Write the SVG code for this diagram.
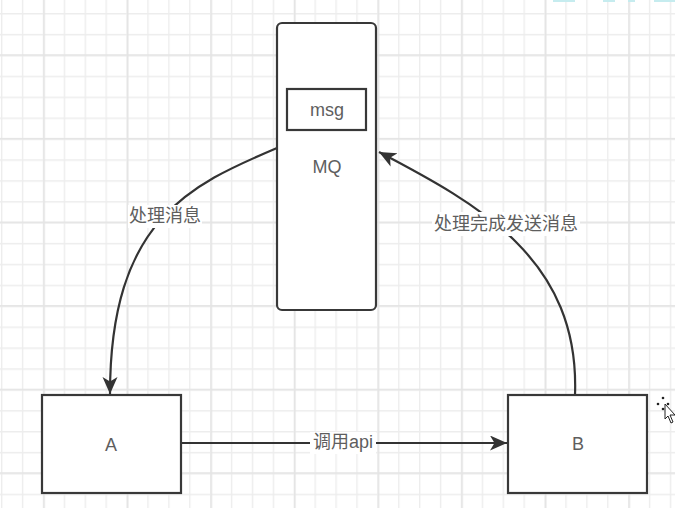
<svg xmlns="http://www.w3.org/2000/svg" width="675" height="508" viewBox="0 0 675 508">
  <style>
    .box { fill: #ffffff; stroke: #383838; stroke-width: 2.2; }
    .edge { fill: none; stroke: #333333; stroke-width: 2.2; }
    .lbl { font-family: "Liberation Sans", "Noto Sans CJK SC", sans-serif; font-size: 18px; fill: #5e5e5e; text-anchor: middle; dominant-baseline: central; }
    .lblbg { fill: #ffffff; }
    .head { fill: #333333; }
  </style>
  <defs>
    <pattern id="minor" patternUnits="userSpaceOnUse" x="1" y="13" width="20.9" height="20.9">
      <path d="M0.7,0 V20.9 M0,0.7 H20.9" stroke="#ededed" stroke-width="1.4" fill="none"/>
    </pattern>
    <pattern id="major" patternUnits="userSpaceOnUse" x="43.3" y="54.3" width="83.6" height="83.6">
      <path d="M0.7,0 V83.6 M0,0.7 H83.6" stroke="#e4e4e4" stroke-width="1.6" fill="none"/>
    </pattern>
    <marker id="arr" markerUnits="userSpaceOnUse" markerWidth="20" markerHeight="16" refX="17" refY="7.5" orient="auto">
      <path d="M0,0 L17,7.5 L0,15 L4.5,7.5 Z" class="head"/>
    </marker>
  </defs>

  <g id="background">
    <rect x="0" y="0" width="675" height="508" fill="#ffffff"/>
    <rect x="0" y="0" width="675" height="508" fill="url(#minor)"/>
    <rect x="0" y="0" width="675" height="508" fill="url(#major)"/>
    <rect x="553" y="0" width="22" height="2" fill="#c6ecef"/>
    <rect x="603" y="0" width="12" height="2" fill="#c6ecef"/>
    <rect x="628" y="0" width="7" height="2" fill="#c6ecef"/>
    <rect x="654" y="0" width="21" height="2" fill="#c6ecef"/>
  </g>

  <g id="connectors">
    <path id="edge-mq-a" class="edge" d="M277,148 C190,185 110,220 110,394" marker-end="url(#arr)"/>
    <path id="edge-b-mq" class="edge" d="M575,395 C580,260 480,205 379,152" marker-end="url(#arr)"/>
    <path id="edge-a-b" class="edge" d="M181,443 L507,443" marker-end="url(#arr)"/>
    <g id="edge-labels">
      <rect class="lblbg" x="128" y="205" width="74" height="23"/>
      <text class="lbl" x="165" y="216">处理消息</text>
      <rect class="lblbg" x="432" y="212" width="148" height="24"/>
      <text class="lbl" x="506" y="224">处理完成发送消息</text>
      <rect class="lblbg" x="310" y="432" width="66" height="22"/>
      <text class="lbl" x="343" y="442">调用api</text>
    </g>
  </g>

  <g id="node-mq">
    <rect class="box" x="277" y="23" width="99" height="287" rx="5" ry="5"/>
    <text class="lbl" x="327" y="167">MQ</text>
  </g>
  <g id="node-msg">
    <rect class="box" x="287" y="89" width="79" height="41"/>
    <text class="lbl" x="327" y="110">msg</text>
  </g>
  <g id="node-a">
    <rect class="box" x="42" y="395" width="139" height="98"/>
    <text class="lbl" x="111" y="445">A</text>
  </g>
  <g id="node-b">
    <rect class="box" x="508" y="395" width="139" height="98"/>
    <text class="lbl" x="578" y="444">B</text>
  </g>

  <g id="cursor">
    <circle cx="663" cy="398" r="1.3" fill="#222"/>
    <circle cx="658" cy="404" r="1.3" fill="#222"/>
    <circle cx="668" cy="404" r="1.3" fill="#222"/>
    <circle cx="663" cy="409" r="1.3" fill="#222"/>
    <path d="M665,404 L665,419 L668,416 L671,423 L673,422 L670,415 L675,415 Z" fill="#ffffff" stroke="#222" stroke-width="1"/>
  </g>
</svg>
